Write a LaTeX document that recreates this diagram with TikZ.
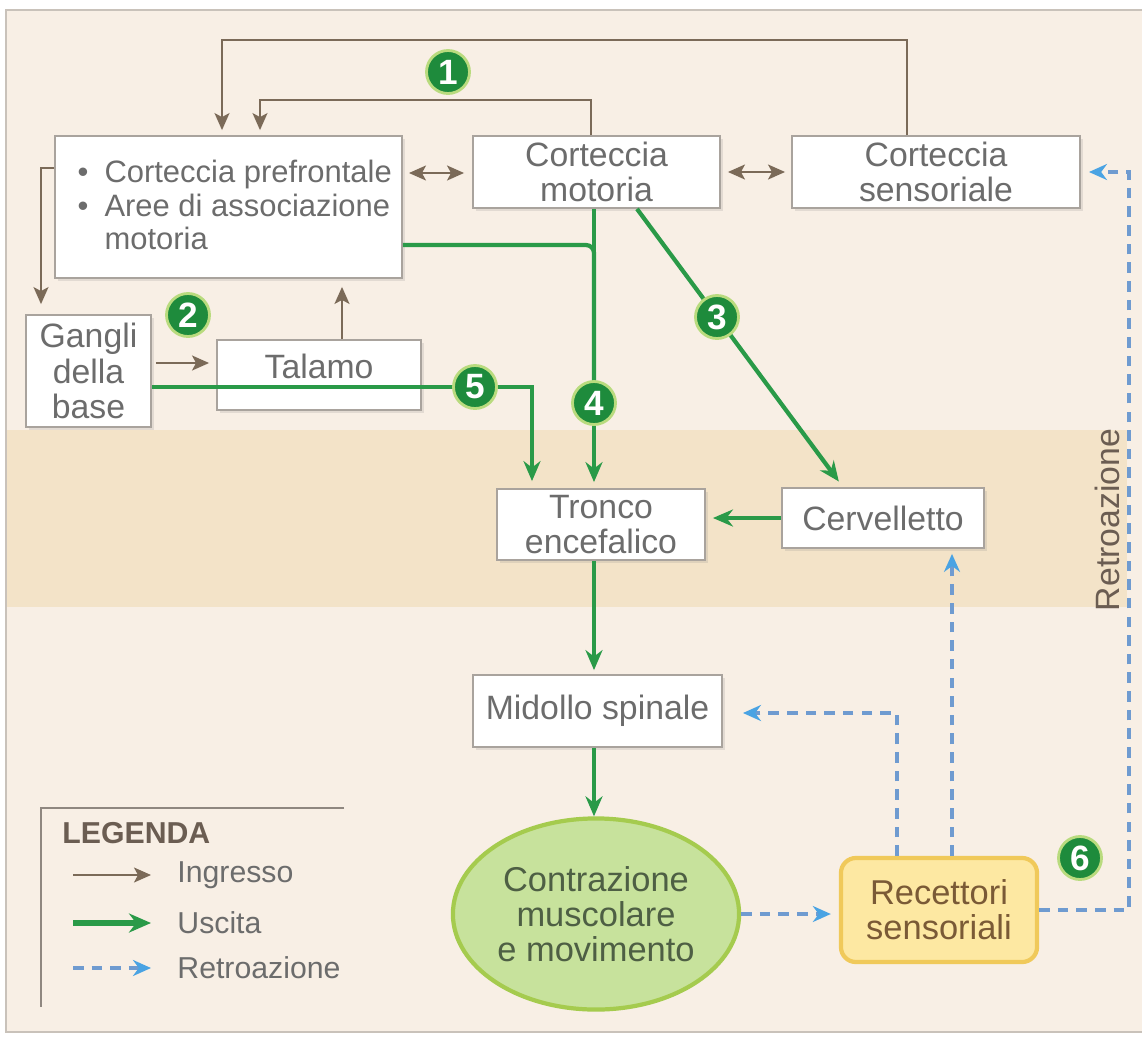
\documentclass[tikz,border=0pt]{standalone}
\usepackage{fontspec}
\setmainfont{Liberation Sans}
\usetikzlibrary{arrows.meta,shapes.geometric,shadows}
\definecolor{bgbeige}{HTML}{F8EFE5}
\definecolor{bandcol}{HTML}{F3E3C8}
\definecolor{boxline}{HTML}{A9A39D}
\definecolor{txtgray}{HTML}{6C6C6C}
\definecolor{brownarr}{HTML}{7B6A58}
\definecolor{greenarr}{HTML}{2A9A48}
\definecolor{numgreen}{HTML}{1E8B3C}
\definecolor{ringgreen}{HTML}{B9DB7E}
\definecolor{fbblue}{HTML}{6F9BD0}
\definecolor{fbtip}{HTML}{4AA3E3}
\definecolor{ellfill}{HTML}{C7E29C}
\definecolor{elldraw}{HTML}{A5CB4E}
\definecolor{recfill}{HTML}{FDE8A2}
\definecolor{recdraw}{HTML}{F0C95A}
\definecolor{rectext}{HTML}{7A5A36}
\definecolor{elltext}{HTML}{4E5F44}
\definecolor{framegray}{HTML}{C9C2BA}
\definecolor{leggray}{HTML}{8F8780}
\definecolor{legtext}{HTML}{6B5D52}
\tikzset{
  boxnode/.style={draw=boxline, line width=0.5pt, fill=white, inner sep=0pt, align=center,
    drop shadow={shadow xshift=0.03cm, shadow yshift=-0.03cm, opacity=0.18}},
  numc/.style={circle, fill=numgreen, draw=ringgreen, line width=0.8pt, minimum size=0.43cm,
    inner sep=0pt, text=white, font=\fontsize{10}{10}\selectfont\bfseries},
  outl/.style={draw=greenarr, line width=1.2pt},
  outarr/.style={outl, -{Stealth[length=0.2cm,width=0.17cm]}},
  ingr/.style={draw=brownarr, line width=0.55pt, -{Stealth[length=0.17cm,width=0.15cm,inset=0.04cm]}},
  ingrb/.style={draw=brownarr, line width=0.55pt, {Stealth[length=0.17cm,width=0.15cm,inset=0.04cm]}-{Stealth[length=0.17cm,width=0.15cm,inset=0.04cm]}},
  fb/.style={draw=fbblue, line width=0.9pt, dash pattern=on 3pt off 2.3pt,
    -{Stealth[length=0.18cm,width=0.16cm,color=fbtip]}},
}
\begin{document}
\begin{tikzpicture}[x=0.01cm, y=-0.01cm, font=\fontsize{9.6}{10}\selectfont, text=txtgray]
\useasboundingbox (0,0) rectangle (1142,1042);
\fill[white] (0,0) rectangle (1142,1042);
\fill[bgbeige] (6,10) rectangle (1142,1032);
\fill[bandcol] (6,430) rectangle (1127,607);
\draw[framegray, line width=0.6pt] (1142,10) -- (6,10) -- (6,1032) -- (1142,1032);

% boxes
\node[boxnode, minimum width=3.47cm, minimum height=1.42cm] (pref) at (228.5,207) {};
\node[anchor=west, align=left, inner sep=0pt, font=\fontsize{8.8}{9.6}\selectfont] (preftext) at (77,205)
  {\textbullet\hspace{0.16cm}Corteccia prefrontale\\ \textbullet\hspace{0.16cm}Aree di associazione\\ \phantom{\textbullet}\hspace{0.16cm}motoria};
\node[boxnode, minimum width=2.47cm, minimum height=0.72cm] (mot) at (596.5,172) {Corteccia\\motoria};
\node[boxnode, minimum width=2.88cm, minimum height=0.72cm] (sens) at (936,172) {Corteccia\\sensoriale};
\node[boxnode, minimum width=1.25cm, minimum height=1.12cm] (gangli) at (88.5,371) {Gangli\\della\\base};
\node[boxnode, minimum width=2.04cm, minimum height=0.70cm] (tal) at (319,375) {};
\node (taltext) at (319,366) {Talamo};
\node[boxnode, minimum width=2.08cm, minimum height=0.71cm] (tronco) at (601,524.5) {Tronco\\encefalico};
\node[boxnode, minimum width=2.02cm, minimum height=0.60cm] (cerv) at (883,518) {Cervelletto};
\node[boxnode, minimum width=2.49cm, minimum height=0.72cm] (mid) at (597.5,711) {Midollo spinale};
\node[ellipse, fill=ellfill, draw=elldraw, line width=1.2pt, minimum width=2.86cm, minimum height=1.91cm,
  inner sep=0pt, text=elltext, align=center, font=\fontsize{9.8}{9.9}\selectfont] (contr) at (596,914)
  {Contrazione\\muscolare\\e movimento};
\node[rectangle, rounded corners=0.15cm, fill=recfill, draw=recdraw, line width=1.2pt, minimum width=1.96cm,
  minimum height=1.04cm, inner sep=0pt, text=rectext, align=center, font=\fontsize{9.8}{10}\selectfont] (rec) at (939,910)
  {Recettori\\sensoriali};
\node[rotate=90, text=legtext, font=\fontsize{9.6}{10}\selectfont] (retro) at (1107,520) {Retroazione};

% brown input connectors
\coordinate (o1) at (907,40); \coordinate (o2) at (222,40);
\draw[ingr, shorten >=0.05cm] (sens.north -| o1) -- (o1) -- (o2) -- (pref.north -| o2);
\coordinate (i1) at (591,100); \coordinate (i2) at (260,100);
\draw[ingr, shorten >=0.05cm] (mot.north -| i1) -- (i1) -- (i2) -- (pref.north -| i2);
\coordinate (a1) at (0,173);
\draw[ingrb, shorten <=0.06cm, shorten >=0.08cm] (pref.east |- a1) -- (mot.west |- a1);
\draw[ingrb, shorten <=0.07cm, shorten >=0.06cm] (mot.east) -- (sens.west);
\coordinate (l1) at (41,168);
\draw[ingr, shorten >=0.1cm] (pref.west |- l1) -- (l1) -- (gangli.north -| l1);
\coordinate (g1) at (0,363);
\draw[ingr, shorten <=0.04cm, shorten >=0.07cm] (gangli.east |- g1) -- (tal.west |- g1);
\coordinate (t1) at (342,0);
\draw[ingr, shorten >=0.08cm] (tal.north -| t1) -- (pref.south -| t1);

% green output connectors
\coordinate (v4) at (594,0);
\coordinate (p1) at (0,245);
\coordinate (c4) at (594,403);
\draw[outarr, shorten >=0.06cm] (mot.south -| v4) -- (tronco.north -| v4);
\draw[outl, rounded corners=0.08cm] (pref.east |- p1) -| (v4 |- c4);
\coordinate (y5) at (532,387);
\draw[outarr, shorten >=0.07cm] (gangli.east |- y5) -- (y5) -- (tronco.north -| y5);
\coordinate (d1) at (637,0); \coordinate (d2) at (843,0);
\draw[outarr, shorten >=0.07cm] (mot.south -| d1) -- (cerv.north -| d2);
\draw[outarr, shorten >=0.07cm] (cerv.west) -- (tronco.east |- cerv.west);
\draw[outarr, shorten >=0.04cm] (tronco.south -| v4) -- (mid.north -| v4);
\draw[outarr] (mid.south -| v4) -- (contr.north -| v4);

% blue feedback connectors
\draw[fb, shorten >=0.08cm] (contr.east) -- (rec.west |- contr.east);
\coordinate (b1) at (897,713);
\draw[fb, shorten >=0.2cm] (rec.north -| b1) -- (b1) -- (mid.east |- b1);
\coordinate (b2) at (952,0);
\draw[fb, shorten >=0.05cm] (rec.north -| b2) -- (cerv.south -| b2);
\coordinate (b3) at (1129,500);
\draw[fb, shorten >=0.08cm] (rec.east) -| (b3) |- (sens.east);

% numbered circles
\node[numc] (n1) at (448,72) {1};
\node[numc] (n2) at (188,315) {2};
\node[numc] (n3) at (717,317) {3};
\node[numc] (n4) at (c4) {4};
\node[numc] (n5) at (475,387) {5};
\node[numc] (n6) at (1080,858) {6};

% legend
\coordinate (lg0) at (41,808); \coordinate (lg1) at (344,808); \coordinate (lg2) at (41,1007);
\draw[leggray, line width=0.6pt] (lg1) -- (lg0) -- (lg2);
\node[anchor=west, text=legtext, font=\fontsize{8.6}{10}\selectfont\bfseries] (legtitle) at (50,833) {LEGENDA};
\coordinate (la1) at (73,875); \coordinate (lb1) at (151,875);
\draw[ingr] (la1) -- (lb1);
\node[anchor=west, font=\fontsize{8.6}{10}\selectfont] (lt1) at (165,875) {Ingresso};
\coordinate (la2) at (73,923); \coordinate (lb2) at (151,923);
\draw[draw=greenarr, line width=1.5pt, -{Stealth[length=0.22cm,width=0.19cm]}] (la2) -- (lb2);
\node[anchor=west, font=\fontsize{8.6}{10}\selectfont] (lt2) at (165,923) {Uscita};
\coordinate (la3) at (73,968); \coordinate (lb3) at (151,968);
\draw[fb] (la3) -- (lb3);
\node[anchor=west, font=\fontsize{8.6}{10}\selectfont] (lt3) at (165,968) {Retroazione};
\end{tikzpicture}
\end{document}
